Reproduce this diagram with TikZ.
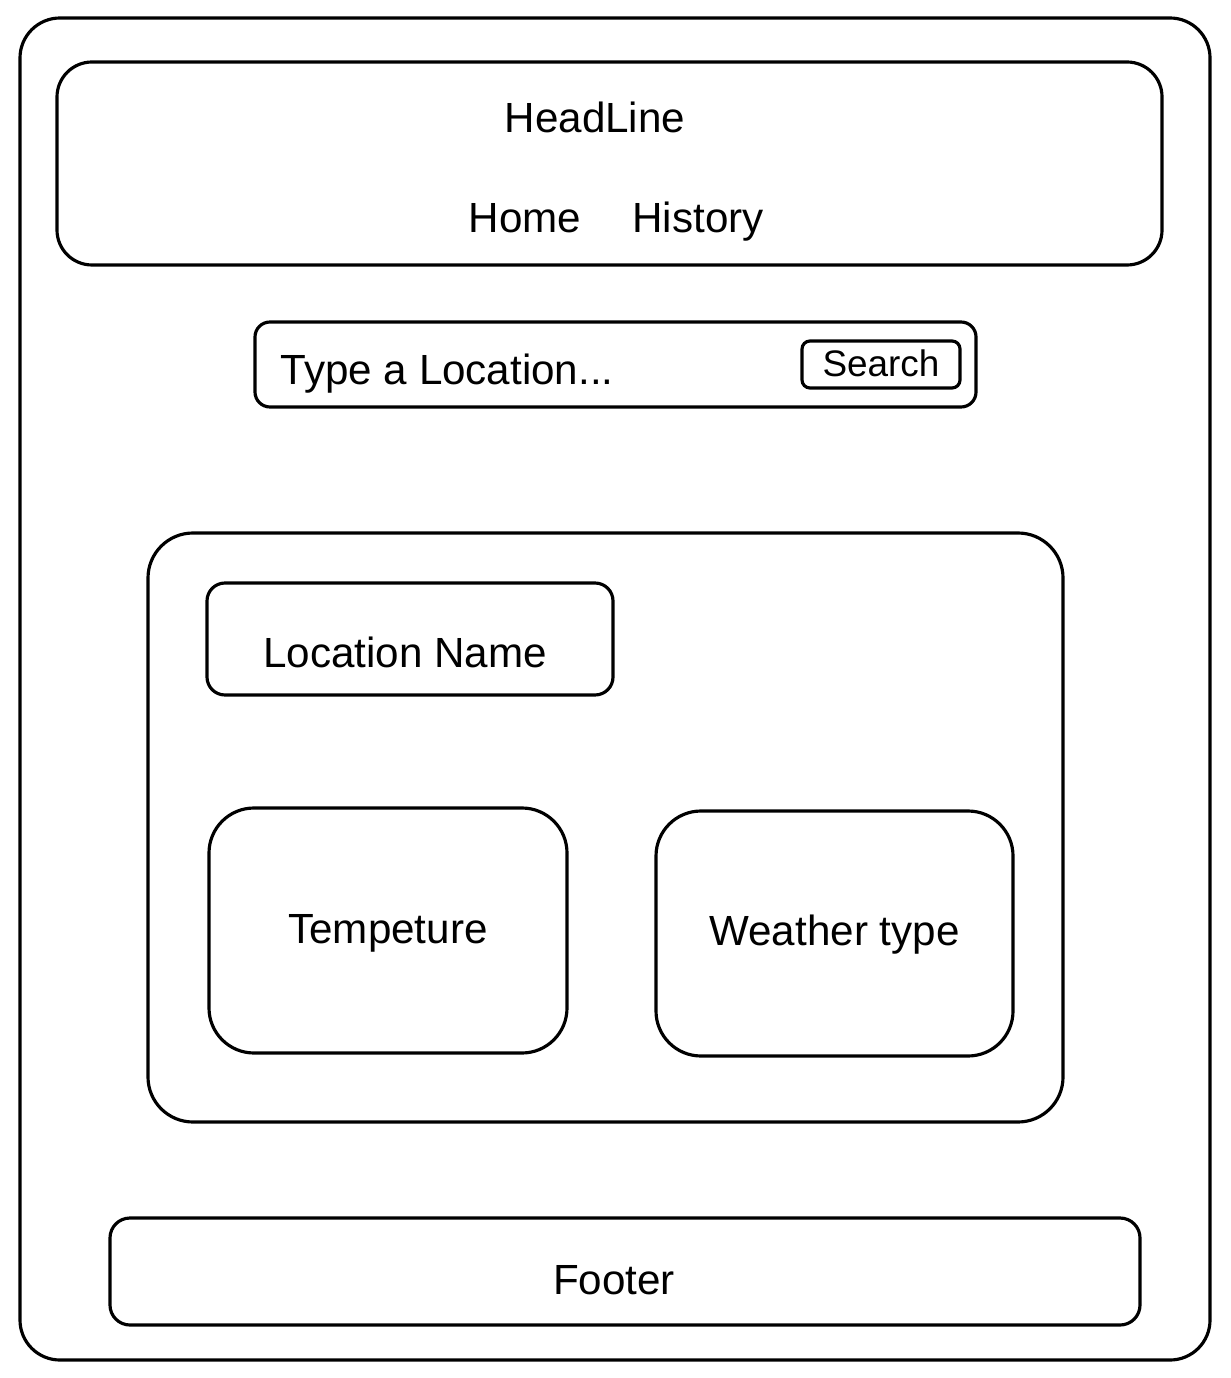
\documentclass[tikz,border=0pt]{standalone}
\usepackage{fontspec}
\setmainfont{Liberation Sans}
\begin{document}
\begin{tikzpicture}[box/.style={draw, line width=0.9pt, inner sep=0pt},
                    txt/.style={anchor=base, inner sep=0pt, font=\fontsize{12}{14}\selectfont}]
            \useasboundingbox (0,0) rectangle (12.3,-13.78);
            \node [box, rounded corners=0.4cm, minimum width=11.9cm, minimum height=13.42cm] (page) at (6.15,-6.89) {};
            % header
            \node [box, rounded corners=0.35cm, minimum width=11.05cm, minimum height=2.03cm] (header) at (6.095,-1.635) {};
            \node [txt] (headline) at (5.95,-1.33) {HeadLine};
            \node [txt] (home) at (5.25,-2.33) {Home};
            \node [txt] (history) at (6.98,-2.33) {History};
            % search
            \node [box, rounded corners=0.15cm, minimum width=7.21cm, minimum height=0.85cm] (searchbar) at (6.155,-3.645) {};
            \node [txt, anchor=base west] (query) at (2.8,-3.85) {Type a Location...};
            \node [box, rounded corners=0.08cm, minimum width=1.58cm, minimum height=0.47cm] (searchbtn) at (8.81,-3.645) {};
            \node [txt, font=\fontsize{10.5}{12}\selectfont] (searchtext) at (8.81,-3.77) {Search};
            % result card
            \node [box, rounded corners=0.45cm, minimum width=9.15cm, minimum height=5.89cm] (card) at (6.055,-8.275) {};
            \node [box, rounded corners=0.18cm, minimum width=4.06cm, minimum height=1.12cm] (locname) at (4.10,-6.39) {};
            \node [txt] (loctext) at (4.05,-6.67) {Location Name};
            \node [box, rounded corners=0.45cm, minimum width=3.58cm, minimum height=2.45cm] (temp) at (3.88,-9.305) {};
            \node [txt] (temptext) at (3.88,-9.43) {Tempeture};
            \node [box, rounded corners=0.45cm, minimum width=3.57cm, minimum height=2.45cm] (weather) at (8.345,-9.335) {};
            \node [txt] (weathertext) at (8.345,-9.45) {Weather type};
            % footer
            \node [box, rounded corners=0.2cm, minimum width=10.3cm, minimum height=1.07cm] (footer) at (6.25,-12.715) {};
            \node [txt] (foottext) at (6.14,-12.94) {Footer};
        \end{tikzpicture}
\end{document}
